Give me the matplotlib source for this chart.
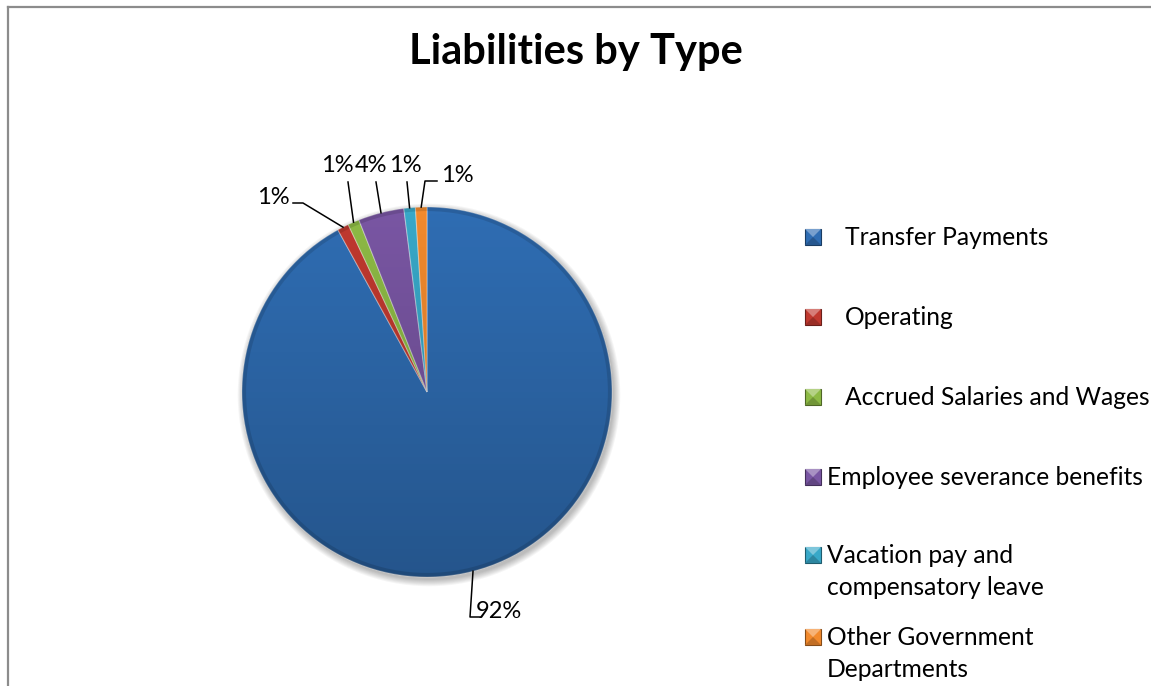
import numpy as np
import matplotlib.pyplot as plt
from matplotlib.colors import to_rgb
from matplotlib.patches import Circle, Rectangle, Polygon

# Liabilities broken down by type (percent of total)
categories = ["Transfer Payments", "Operating", "Accrued Salaries and Wages",
              "Employee severance benefits", "Vacation pay and compensatory leave",
              "Other Government Departments"]
shares = [92, 1, 1, 4, 1, 1]
legend_labels = ["Transfer Payments", "Operating", "Accrued Salaries and Wages",
                 "Employee severance benefits", "Vacation pay and\ncompensatory leave",
                 "Other Government\nDepartments"]
colors = ["#2F6DB3", "#C0392F", "#8DBA45", "#7956A3", "#38A8C8", "#F28A2D"]

W, H = 1151, 686

plt.rcParams['font.family'] = ['Lato', 'DejaVu Sans']


def py(y):
    # layout positions below are measured from the top edge
    return H - y


def tint(c, f):
    r, g, b = to_rgb(c)
    if f > 0:
        return (r + (1 - r) * f, g + (1 - g) * f, b + (1 - b) * f)
    return (r * (1 + f), g * (1 + f), b * (1 + f))


fig = plt.figure(figsize=(W / 100, H / 100), dpi=100)
ax = fig.add_axes([0, 0, 1, 1])

cx, cy, R = 427, py(392), 185

# soft drop shadow under the pie
for i in range(8):
    ax.add_patch(Circle((cx + 2, cy - 3), R + i * 0.9, color="black",
                        alpha=0.035, lw=0, zorder=0.5))

wedges, _ = ax.pie(shares, colors=colors, startangle=90, counterclock=False,
                   center=(cx, cy), radius=R, frame=True,
                   wedgeprops=dict(edgecolor=(1, 1, 1, 0.35), linewidth=0.8))

# darker towards the bottom, like the bevelled Excel style
grad = np.linspace(0, 1, 256)[:, None]
shade = np.zeros((256, 1, 4))
shade[..., 3] = 0.22 * grad
im = ax.imshow(shade, extent=(cx - R, cx + R, cy - R, cy + R), origin="upper",
               aspect="auto", zorder=3)
im.set_clip_path(Circle((cx, cy), R, transform=ax.transData))
ax.add_patch(Circle((cx, cy), R - 2, fill=False, ec=(0, 0, 0, 0.12), lw=3, zorder=4))

# percentage labels with leader lines
label_xy = [(499, 612), (273, 198), (337, 165), (371, 165), (405, 165), (457, 175)]
elbows = [[(480, 617), (470, 617)], [(293, 203), (303, 203)], [(348, 182)],
          [(376, 182)], [(407, 182)], [(437, 181), (425, 181)]]
for w, v, (tx, ty), pts in zip(wedges, shares, label_xy, elbows):
    mid = np.deg2rad((w.theta1 + w.theta2) / 2)
    ax_pt = (cx + R * np.cos(mid), cy + R * np.sin(mid))
    xs = [p[0] for p in pts] + [ax_pt[0]]
    ys = [py(p[1]) for p in pts] + [ax_pt[1]]
    ax.plot(xs, ys, color="black", lw=1.1, zorder=5)
    ax.text(tx, py(ty), f"{v:.0f}%", ha="center", va="center", fontsize=17, zorder=6)

# legend: bevelled square keys, wrapped labels
leg_text_x = [845, 845, 845, 827, 827, 827]
leg_y = [237, 317, 397, 477, 555, 637]
kx, ks = 805, 16
for lab, c, tx, ly in zip(legend_labels, colors, leg_text_x, leg_y):
    y0 = py(ly) - ks / 2
    ax.add_patch(Rectangle((kx, y0), ks, ks, fc=c, ec=tint(c, -0.45), lw=0.8))
    ax.add_patch(Polygon([(kx, y0 + ks), (kx + ks, y0 + ks), (kx + ks / 2, y0 + ks / 2)],
                         closed=True, fc=tint(c, 0.35), lw=0))
    ax.add_patch(Polygon([(kx, y0), (kx + ks, y0), (kx + ks / 2, y0 + ks / 2)],
                         closed=True, fc=tint(c, -0.2), lw=0))
    for i, line in enumerate(lab.split("\n")):
        ax.text(tx, py(ly + 8 + i * 32), line, ha="left", va="baseline",
                fontsize=17.7)

ax.text(576, py(52), "Liabilities by Type", ha="center", va="center",
        fontsize=30, fontweight="bold")

# chart border (top and left edges visible)
ax.plot([8, W], [py(7), py(7)], color="#8c8c8c", lw=1.6, clip_on=False)
ax.plot([8, 8], [py(7), 0], color="#8c8c8c", lw=1.6, clip_on=False)

ax.set_xlim(0, W)
ax.set_ylim(0, H)
ax.set_aspect("equal")
ax.axis("off")

fig.savefig("out.png", dpi=100)
